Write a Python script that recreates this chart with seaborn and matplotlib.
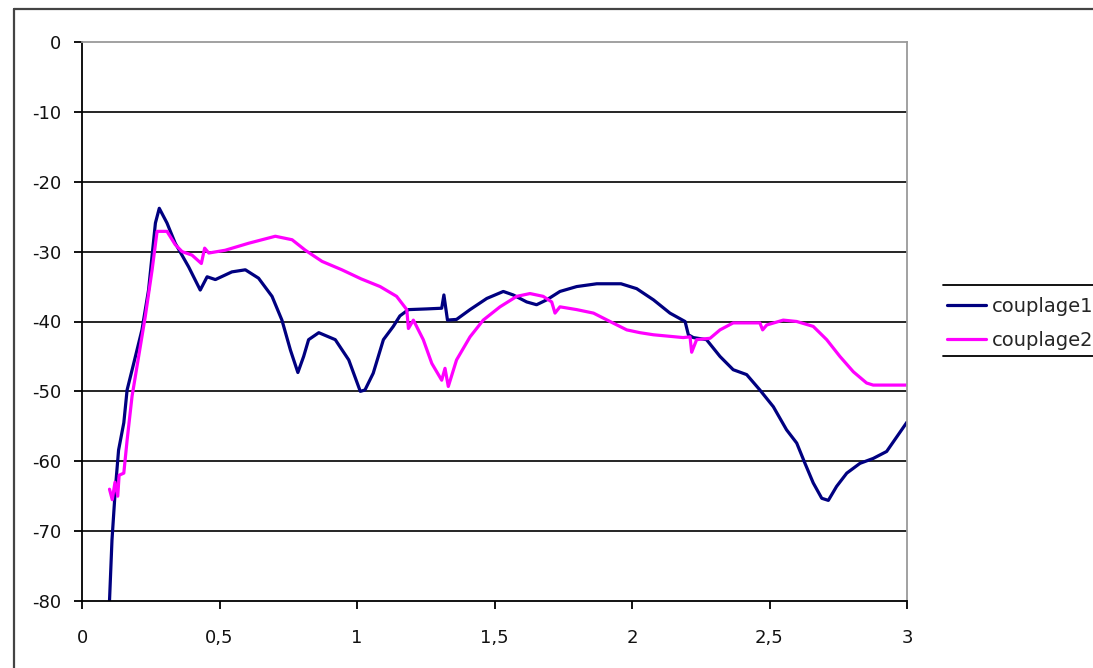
import matplotlib
matplotlib.use("Agg")
import matplotlib.pyplot as plt
import seaborn as sns
import pandas as pd
from matplotlib.lines import Line2D

# ---- data ----
x_c1 = [0.100, 0.109, 0.121, 0.133, 0.152, 0.164, 0.188, 0.218, 0.242, 0.267, 0.281,
        0.309, 0.339, 0.388, 0.430, 0.455, 0.485, 0.545, 0.594, 0.642, 0.691, 0.727,
        0.758, 0.785, 0.806, 0.824, 0.861, 0.921, 0.970, 1.012, 1.029, 1.059, 1.096,
        1.132, 1.156, 1.187, 1.253, 1.308, 1.316, 1.329, 1.362, 1.411, 1.472, 1.532,
        1.568, 1.617, 1.653, 1.690, 1.738, 1.799, 1.872, 1.960, 2.017, 2.078, 2.138,
        2.193, 2.205, 2.223, 2.271, 2.320, 2.368, 2.417, 2.465, 2.514, 2.562, 2.599,
        2.629, 2.659, 2.690, 2.714, 2.744, 2.781, 2.829, 2.877, 2.926, 2.963, 3.000]
y_c1 = [-80.0, -71.3, -64.1, -58.4, -54.5, -49.8, -46.0, -41.2, -35.5, -25.9, -23.8,
        -25.9, -28.8, -32.2, -35.5, -33.6, -34.0, -32.9, -32.6, -33.8, -36.4, -39.8,
        -44.1, -47.3, -45.0, -42.6, -41.6, -42.6, -45.5, -50.0, -49.8, -47.4, -42.6,
        -40.7, -39.2, -38.3, -38.2, -38.1, -36.2, -39.8, -39.7, -38.3, -36.7, -35.7,
        -36.2, -37.2, -37.6, -36.9, -35.7, -35.0, -34.6, -34.6, -35.3, -36.9, -38.8,
        -40.0, -41.9, -42.3, -42.6, -45.0, -46.9, -47.6, -49.8, -52.2, -55.5, -57.4,
        -60.3, -63.1, -65.3, -65.6, -63.6, -61.7, -60.3, -59.6, -58.6, -56.5, -54.4]

x_c2 = [0.100, 0.110, 0.120, 0.130, 0.135, 0.152, 0.164, 0.182, 0.206, 0.230, 0.255,
        0.273, 0.309, 0.339, 0.364, 0.400, 0.434, 0.446, 0.461, 0.521, 0.606, 0.703,
        0.764, 0.812, 0.873, 0.945, 1.015, 1.084, 1.144, 1.181, 1.187, 1.205, 1.241,
        1.272, 1.308, 1.320, 1.332, 1.362, 1.411, 1.459, 1.520, 1.581, 1.629, 1.677,
        1.708, 1.720, 1.738, 1.799, 1.860, 1.920, 1.981, 2.029, 2.078, 2.186, 2.211,
        2.217, 2.235, 2.284, 2.320, 2.368, 2.465, 2.475, 2.490, 2.550, 2.599, 2.659,
        2.708, 2.756, 2.805, 2.853, 2.877, 3.000]
y_c2 = [-64.0, -65.5, -63.0, -65.0, -62.0, -61.7, -57.0, -50.7, -45.0, -39.3, -32.6,
        -27.1, -27.1, -29.0, -30.0, -30.5, -31.7, -29.5, -30.2, -29.8, -28.8, -27.8,
        -28.3, -29.8, -31.4, -32.6, -33.9, -35.0, -36.4, -38.3, -41.0, -39.8, -42.6,
        -46.0, -48.4, -46.7, -49.3, -45.5, -42.2, -39.8, -37.9, -36.4, -36.0, -36.4,
        -37.2, -38.8, -37.9, -38.3, -38.8, -40.0, -41.2, -41.6, -41.9, -42.3, -42.2,
        -44.4, -42.6, -42.4, -41.2, -40.2, -40.2, -41.2, -40.5, -39.8, -40.0, -40.7,
        -42.6, -45.0, -47.2, -48.8, -49.1, -49.1]

series_names = ["couplage1", "couplage2"]
series_colors = ["#000080", "#FF00FF"]
x_ticks = [0, 0.5, 1, 1.5, 2, 2.5, 3]
x_tick_labels = ["0", "0,5", "1", "1,5", "2", "2,5", "3"]
y_ticks = [0, -10, -20, -30, -40, -50, -60, -70, -80]
y_tick_labels = ["0", "-10", "-20", "-30", "-40", "-50", "-60", "-70", "-80"]

df = pd.concat([
    pd.DataFrame({"x": x_c1, "y": y_c1, "serie": series_names[0]}),
    pd.DataFrame({"x": x_c2, "y": y_c2, "serie": series_names[1]}),
], ignore_index=True)

sns.set_style("white")
plt.rcParams["font.family"] = ["DejaVu Sans"]

W, H = 1093, 668
fig = plt.figure(figsize=(W / 100, H / 100), dpi=100)
fig.patch.set_facecolor("white")
L, R, T, B = 82, 907, 42, 601
ax = fig.add_axes([L / W, 1 - B / H, (R - L) / W, (B - T) / H])

sns.lineplot(data=df, x="x", y="y", hue="serie", palette=series_colors,
             estimator=None, sort=False, linewidth=2.3, ax=ax, legend=True)

ax.set_xlim(0, 3)
ax.set_ylim(-80, 0)
ax.set_xticks(x_ticks)
ax.set_xticklabels(x_tick_labels)
ax.set_yticks(y_ticks)
ax.set_yticklabels(y_tick_labels)
ax.set_xlabel("")
ax.set_ylabel("")
ax.tick_params(axis="both", which="major", direction="out", length=6, width=1.3,
               color="black", labelsize=13, labelcolor="#111111",
               left=True, bottom=True)
ax.tick_params(axis="x", pad=14)
ax.tick_params(axis="y", pad=9)

for yv in y_ticks[1:-1]:
    ax.axhline(yv, color="black", linewidth=1.2, zorder=0.5)

for side in ["left", "bottom"]:
    ax.spines[side].set_color("black")
    ax.spines[side].set_linewidth(1.3)
for side in ["top", "right"]:
    ax.spines[side].set_color("#9a9a9a")
    ax.spines[side].set_linewidth(1.3)
ax.grid(False)

# legend
handles, labels = ax.get_legend_handles_labels()
leg = fig.legend(handles, labels, loc="upper left",
                 bbox_to_anchor=(947 / W, 1 - 297 / H), frameon=False,
                 fontsize=14, handlelength=2.0, handletextpad=0.3,
                 labelspacing=0.75, borderpad=0, borderaxespad=0)
ax.get_legend().remove()

# legend frame lines (top/bottom only) and outer chart frame
fig.add_artist(Line2D([943 / W, 1.0], [1 - 285 / H, 1 - 285 / H],
                      transform=fig.transFigure, color="black", linewidth=1.3))
fig.add_artist(Line2D([943 / W, 1.0], [1 - 356 / H, 1 - 356 / H],
                      transform=fig.transFigure, color="black", linewidth=1.3))
fig.add_artist(Line2D([14 / W, 14 / W], [0, 1 - 9 / H],
                      transform=fig.transFigure, color="#444444", linewidth=1.6))
fig.add_artist(Line2D([14 / W, 1.0], [1 - 9 / H, 1 - 9 / H],
                      transform=fig.transFigure, color="#444444", linewidth=1.6))

fig.savefig("out.png", dpi=100, facecolor="white")
